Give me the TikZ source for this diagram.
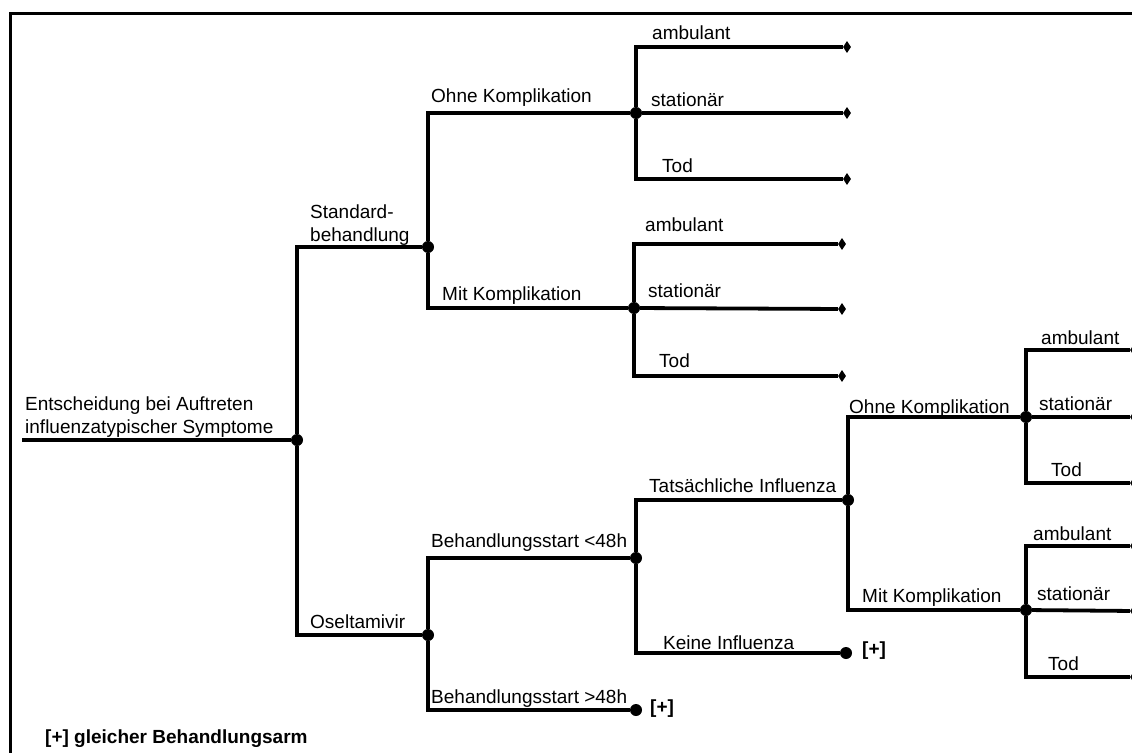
\documentclass[tikz,border=0pt]{standalone}
\usepackage{fontspec}
\setmainfont{Liberation Sans}
\usepackage{tikz}
\usetikzlibrary{shapes.geometric}

\begin{document}
\begin{tikzpicture}[
    x=1pt, y=-1pt,
    branch/.style={line width=3.8pt},
    chance/.style={circle, fill=black, inner sep=0pt, minimum size=12pt},
    leaf/.style={diamond, fill=black, inner sep=0pt, minimum width=8pt, minimum height=12pt},
    lbl/.style={font=\fontsize{19}{23}\selectfont, inner sep=0pt, anchor=base west},
    plus/.style={font=\fontsize{19}{23}\selectfont\bfseries, inner sep=0pt, anchor=base west}
]
    \useasboundingbox (0,0) rectangle (1132,752);
    \clip (0,0) rectangle (1132,752);
    % Frame
    \draw[line width=3pt] (10,760) -- (10,14) -- (1140,14);

    % Chance nodes
    \coordinate (start) at (22,440);
    \node (root) [chance] at (297,440) {};
    \node (std) [chance] at (428,247) {};
    \node (ose) [chance] at (428,635) {};
    \node (stdOhne) [chance] at (636,113) {};
    \node (stdMit) [chance] at (634,308) {};
    \node (early) [chance] at (636,558) {};
    \node (late) [chance] at (636,710) {};
    \node (flu) [chance] at (848,500) {};
    \node (noflu) [chance] at (846,653) {};
    \node (fluOhne) [chance] at (1026,417) {};
    \node (fluMit) [chance] at (1026,610) {};

    % Outcomes
    \node (soAmb) [leaf] at (847,47) {};
    \node (soSta) [leaf] at (847,113) {};
    \node (soTod) [leaf] at (847,179) {};
    \node (smAmb) [leaf] at (842,244) {};
    \node (smSta) [leaf] at (842,309) {};
    \node (smTod) [leaf] at (842,376) {};
    \node (foAmb) [leaf] at (1134,350) {};
    \node (foSta) [leaf] at (1134,417) {};
    \node (foTod) [leaf] at (1134,483) {};
    \node (fmAmb) [leaf] at (1134,546) {};
    \node (fmSta) [leaf] at (1134,611) {};
    \node (fmTod) [leaf] at (1134,677) {};

    % Branches
    \draw[branch] (start) -- (root);
    \draw[branch] (root) |- (std);
    \draw[branch] (root) |- (ose);
    \draw[branch] (std) |- (stdOhne);
    \draw[branch] (std) |- (stdMit);
    \draw[branch] (ose) |- (early);
    \draw[branch] (ose) |- (late);
    \draw[branch] (early) |- (flu);
    \draw[branch] (early) |- (noflu);
    \draw[branch] (flu) |- (fluOhne);
    \draw[branch] (flu) |- (fluMit);
    \draw[branch] (stdOhne) |- (soAmb);
    \draw[branch] (stdOhne) -- (soSta);
    \draw[branch] (stdOhne) |- (soTod);
    \draw[branch] (stdMit) |- (smAmb);
    \draw[branch] (stdMit) -- (smSta);
    \draw[branch] (stdMit) |- (smTod);
    \draw[branch] (fluOhne) |- (foAmb);
    \draw[branch] (fluOhne) -- (foSta);
    \draw[branch] (fluOhne) |- (foTod);
    \draw[branch] (fluMit) |- (fmAmb);
    \draw[branch] (fluMit) -- (fmSta);
    \draw[branch] (fluMit) |- (fmTod);

    % Labels
    \node (lRoot) [lbl, anchor=south west, align=left] at (25,438) {Entscheidung bei Auftreten\\influenzatypischer Symptome};
    \node (lStd) [lbl, anchor=south west, align=left] at (310,246) {Standard-\\behandlung};
    \node (lOse) [lbl] at (310,628) {Oseltamivir};
    \node (lStdOhne) [lbl] at (431,102) {Ohne Komplikation};
    \node (lStdMit) [lbl] at (442,300) {Mit Komplikation};
    \node (lSoAmb) [lbl] at (652,40) {ambulant};
    \node (lSoSta) [lbl] at (651,106) {stationär};
    \node (lSoTod) [lbl] at (662,172) {Tod};
    \node (lSmAmb) [lbl] at (645,231) {ambulant};
    \node (lSmSta) [lbl] at (648,297) {stationär};
    \node (lSmTod) [lbl] at (659,367) {Tod};
    \node (lEarly) [lbl] at (431,547) {Behandlungsstart <48h};
    \node (lLate) [lbl] at (431,703) {Behandlungsstart >48h};
    \node (pLate) [plus] at (650,713) {[+]};
    \node (lFlu) [lbl] at (649,492) {Tatsächliche Influenza};
    \node (lNoflu) [lbl] at (663,649) {Keine Influenza};
    \node (pNoflu) [plus] at (862,655) {[+]};
    \node (lFluOhne) [lbl] at (849,413) {Ohne Komplikation};
    \node (lFluMit) [lbl] at (862,602) {Mit Komplikation};
    \node (lFoAmb) [lbl] at (1041,344) {ambulant};
    \node (lFoSta) [lbl] at (1039,410) {stationär};
    \node (lFoTod) [lbl] at (1051,476) {Tod};
    \node (lFmAmb) [lbl] at (1033,540) {ambulant};
    \node (lFmSta) [lbl] at (1037,600) {stationär};
    \node (lFmTod) [lbl] at (1048,670) {Tod};
    \node (legend) [plus] at (45,743) {[+] gleicher Behandlungsarm};
\end{tikzpicture}
\end{document}
